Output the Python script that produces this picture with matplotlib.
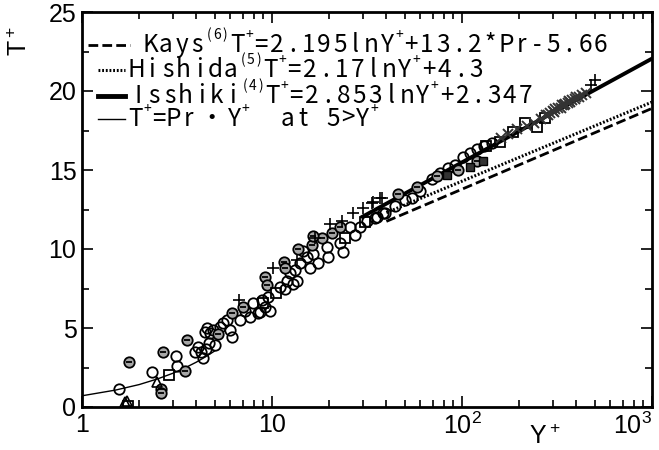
import numpy as np
import matplotlib
matplotlib.use("Agg")
import matplotlib.pyplot as plt
from matplotlib.ticker import FixedLocator, NullFormatter

plt.rcParams['font.family'] = ['Liberation Sans', 'DejaVu Sans']
plt.rcParams['mathtext.default'] = 'regular'

# theory lines (straight on log-x)
kays_y = [40, 1000]
kays_t = [11.75, 18.9]
hishida_y = [40, 1000]
hishida_t = [12.3, 19.3]
isshiki_y = [30, 1000]
isshiki_t = [12.05, 22.05]
# T+ = Pr * Y+ for Y+ < 5
wall_y = [1.0, 1.5, 2.0, 2.5, 3.0, 3.5, 4.0, 4.5, 5.0]
wall_t = [0.71, 1.07, 1.42, 1.78, 2.13, 2.49, 2.84, 3.2, 3.55]

# measured points
circ_y = [1.57, 2.33, 3.12, 3.16, 3.93, 4.23, 4.33, 4.43, 4.65, 4.1, 4.5, 5.0, 4.54, 4.7,
          4.9, 5.3, 5.5, 5.8, 6.0, 6.15, 6.8, 7.2, 7.65, 7.9, 8.4, 8.85, 9.5, 9.75, 9.2,
          8.65, 11.0, 12.0, 12.4, 13.2, 13.5, 11.7, 12.9, 14.0, 15.8, 17.4, 16.4, 15.3,
          14.6, 19.5, 19.7, 22.8, 23.5, 27.3, 25.7, 29, 31.6, 34.8, 38.4, 35.7, 39.2,
          44.3, 50, 54.4, 60, 69.6, 76.6, 84.3, 91.9, 101, 110, 120, 131, 143]
circ_t = [1.14, 2.2, 3.2, 2.6, 3.5, 3.5, 3.1, 4.75, 4.05, 3.8, 3.7, 3.9, 5.0, 4.7,
          4.9, 5.06, 5.3, 5.5, 4.9, 4.4, 5.5, 6.1, 5.7, 6.6, 5.95, 6.8, 6.96, 6.1, 6.3,
          6.0, 7.6, 8.0, 8.5, 8.7, 8.0, 7.5, 7.8, 9.1, 8.8, 9.1, 9.7, 9.5,
          9.9, 10.1, 9.5, 10.4, 9.8, 10.9, 11.4, 11.4, 11.8, 11.96, 12.3, 12.0, 12.3,
          12.7, 13.1, 13.2, 13.7, 14.4, 14.8, 15.1, 15.3, 15.8, 16.1, 16.3, 16.5, 16.7]

dot_y = [1.77, 2.6, 2.6, 2.67, 3.48, 3.56, 5.2, 6.15, 7.0, 9.2, 9.4, 11.6, 11.7, 13.7,
         16.2, 18.3, 16.4, 20.6, 22.8, 46, 57.8, 73.7, 95, 120]
dot_t = [2.85, 1.14, 0.9, 3.5, 2.3, 4.25, 4.6, 5.95, 6.3, 8.2, 7.7, 9.2, 8.8, 10.0,
         10.25, 10.7, 10.8, 11.0, 11.4, 13.5, 13.9, 14.6, 15.0, 15.6]

plus_y = [6.7, 10.1, 13.5, 16.8, 20.1, 23.4, 26.6, 30, 33.6, 37, 34, 37.8, 480, 500]
plus_t = [6.8, 8.8, 9.3, 10.7, 11.6, 11.8, 12.3, 12.6, 12.9, 13.2, 13.0, 13.2, 20.4, 20.7]

sq_y = [1.75, 2.87, 9.0, 10.5, 24.3, 30.9, 134, 158, 185, 214, 248, 272]
sq_t = [0.05, 2.0, 6.6, 7.2, 10.7, 11.7, 16.5, 16.8, 17.4, 18.0, 17.7, 18.3]

sqf_y = [83, 110, 129]
sqf_t = [14.7, 15.2, 15.6]

tri_y = [1.68, 1.72, 2.48]
tri_t = [0.3, 0.4, 1.6]

x_y = [160, 175, 195, 220, 240, 260, 276, 285, 290, 300, 305, 310, 320, 330, 335, 345,
       350, 360, 365, 370, 380, 395, 400, 415, 430, 450]
x_t = [17.0, 17.3, 17.6, 17.8, 18.0, 18.2, 18.45, 18.5, 18.6, 18.75, 18.7, 18.85, 18.9,
       18.95, 19.1, 19.1, 19.2, 19.25, 19.35, 19.3, 19.45, 19.5, 19.6, 19.6, 19.75, 19.85]

fig = plt.figure(figsize=(6.59, 4.5), dpi=100)
ax = fig.add_axes([82 / 659, 1 - 407 / 450, 570 / 659, 395 / 450])

ax.plot(kays_y, kays_t, color='k', lw=2.0, ls=(0, (3.5, 1.5)))
ax.plot(hishida_y, hishida_t, color='k', lw=2.2, ls=(0, (0.6, 0.6)))
ax.plot(isshiki_y, isshiki_t, color='k', lw=2.8)
ax.plot(wall_y, wall_t, color='k', lw=1.0)

ax.plot(circ_y, circ_t, 'o', ms=7.5, mfc='none', mec='k', mew=1.3)
ax.plot(dot_y, dot_t, 'o', ms=7.5, mfc='0.65', mec='k', mew=1.3)
ax.plot(dot_y, dot_t, '_', ms=4, mec='k', mew=1.3)
ax.plot(plus_y, plus_t, '+', ms=8, mec='k', mew=1.2)
ax.plot(sq_y, sq_t, 's', ms=6.5, mfc='none', mec='k', mew=1.3)
ax.plot(sqf_y, sqf_t, 's', ms=5.5, mfc='0.2', mec='k', mew=1.0)
ax.plot(tri_y, tri_t, '^', ms=6.5, mfc='none', mec='k', mew=1.2)
ax.plot(x_y, x_t, 'x', ms=6.5, mec='0.2', mew=1.4)

ax.set_xscale('log')
ax.set_xlim(1, 1000)
ax.set_ylim(0, 25)
ax.xaxis.set_major_locator(FixedLocator([1, 10, 100, 1000]))
minors = [m * d for d in [1, 10, 100] for m in range(2, 10)]
ax.xaxis.set_minor_locator(FixedLocator(minors))
ax.xaxis.set_minor_formatter(NullFormatter())
ax.set_xticklabels(['1', '10', '10$^2$', '10$^3$'])
ax.get_xticklabels()[-1].set_horizontalalignment('right')
ax.set_yticks([0, 5, 10, 15, 20, 25])
ax.set_yticks([2.5, 7.5, 12.5, 17.5, 22.5], minor=True)
ax.tick_params(which='both', direction='in', top=True, right=True, labelsize=18, width=1.2)
ax.tick_params(which='major', length=8, pad=4)
ax.tick_params(which='minor', length=5)
for s in ax.spines.values():
    s.set_linewidth(2.0)

fig.text(0.03, 0.91, 'T$^+$', rotation=90, fontsize=18, ha='center', va='center')
fig.text(545 / 659, 1 - 437 / 450, 'Y$^+$', fontsize=18, ha='center', va='center')

# legend drawn by hand, one character per cell like the original typewriter look
legend_font = ['Noto Sans CJK JP', 'DejaVu Sans']


def ax_xy(px, py):
    return (px - 82) / 570, (407 - py) / 395


def draw_text_row(x, y, pieces, pitch):
    for s, sup in pieces:
        for ch in s:
            if sup:
                w, fs, dy = 8, 10, -10
            elif ch == '・':
                w, fs, dy = 2 * pitch, 17.5, 0
            else:
                w, fs, dy = pitch, 17.5, 0
            if ch != ' ':
                fig.text((x + w / 2) / 659, 1 - (y + dy) / 450, ch, ha='center', va='center',
                         fontsize=fs, family=legend_font)
            x += w


rows = [
    ((0, (3.5, 1.5)), 2.0, 88, 130, 142, 45, 15.8,
     [('Kays', 0), ('(6)', 1), ('T', 0), ('+', 1), ('=2.195lnY', 0), ('+', 1), ('+13.2*Pr-5.66', 0)]),
    ((0, (0.6, 0.6)), 2.2, 98, 125, 128, 70, 15.8,
     [('Hishida', 0), ('(5)', 1), ('T', 0), ('+', 1), ('=2.17lnY', 0), ('+', 1), ('+4.3', 0)]),
    ('-', 3.5, 98, 125, 130, 96, 15.8,
     [('Isshiki', 0), ('(4)', 1), ('T', 0), ('+', 1), ('=2.853lnY', 0), ('+', 1), ('+2.347', 0)]),
    ('-', 1.0, 98, 125, 128, 119, 15.1,
     [('T', 0), ('+', 1), ('=Pr・Y', 0), ('+', 1), ('  at 5>Y', 0), ('+', 1)]),
]
for ls, lw, x0, x1, tx, ty, pitch, pieces in rows:
    a0 = ax_xy(x0, ty)
    a1 = ax_xy(x1, ty)
    ax.plot([a0[0], a1[0]], [a0[1], a1[1]], transform=ax.transAxes, color='k', ls=ls, lw=lw)
    draw_text_row(tx, ty, pieces, pitch)

fig.savefig('out.png', dpi=100)
